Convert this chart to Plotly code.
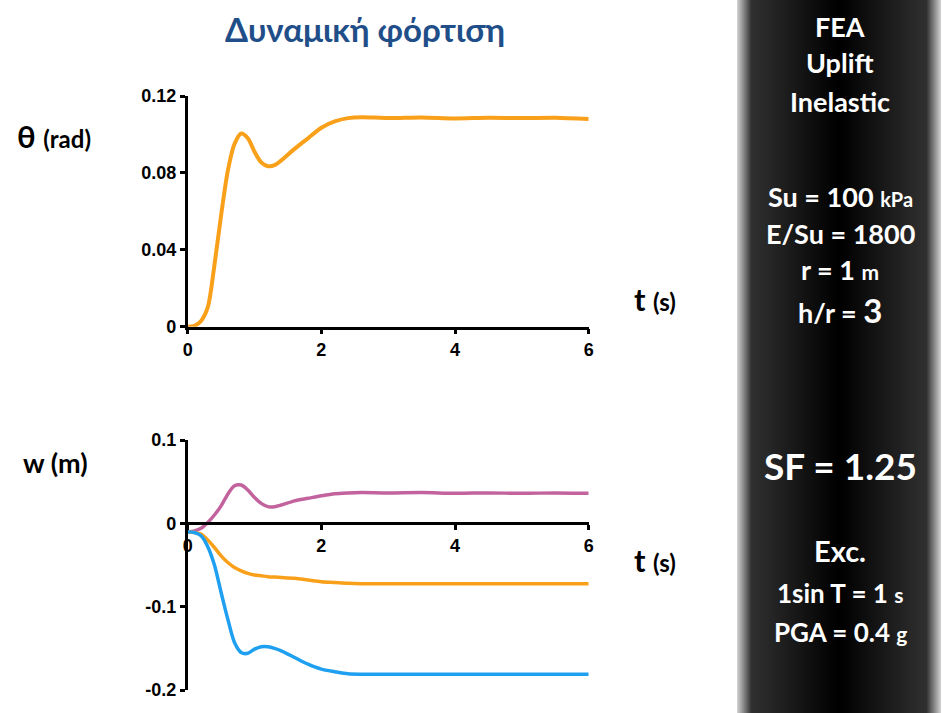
import plotly.graph_objects as go

# ---- data ----
t = [0, 0.1, 0.2, 0.3, 0.4, 0.5, 0.6, 0.7, 0.8, 0.9, 1.0, 1.1, 1.2, 1.3, 1.4,
     1.6, 1.8, 2.0, 2.2, 2.4, 2.6, 3.0, 3.5, 4.0, 4.5, 5.0, 5.5, 6.0]

theta = [0, 0.0005, 0.003, 0.010, 0.032, 0.058, 0.081, 0.095, 0.1005, 0.098,
         0.091, 0.0855, 0.0835, 0.084, 0.0865, 0.0925, 0.098, 0.1035, 0.1068,
         0.1085, 0.109, 0.1085, 0.1088, 0.1083, 0.1087, 0.1085, 0.1087, 0.108]

w_pink = [-0.010, -0.009, -0.006, 0.001, 0.010, 0.021, 0.035, 0.045, 0.046,
          0.040, 0.031, 0.024, 0.020, 0.020, 0.022, 0.027, 0.030, 0.033,
          0.0355, 0.0365, 0.037, 0.0365, 0.037, 0.036, 0.0365, 0.036, 0.0365, 0.036]

w_orange = [-0.010, -0.011, -0.013, -0.020, -0.029, -0.039, -0.047, -0.053,
            -0.057, -0.060, -0.062, -0.063, -0.064, -0.0645, -0.065, -0.066,
            -0.068, -0.070, -0.071, -0.072, -0.0725, -0.0725, -0.0725, -0.0725,
            -0.0725, -0.0725, -0.0725, -0.0725]

w_blue = [-0.010, -0.011, -0.015, -0.028, -0.050, -0.083, -0.115, -0.143,
          -0.155, -0.156, -0.151, -0.148, -0.148, -0.150, -0.153, -0.161,
          -0.169, -0.175, -0.178, -0.1805, -0.181, -0.181, -0.181, -0.181,
          -0.181, -0.181, -0.181, -0.181]

x_ticks = [0, 2, 4, 6]
theta_ticks = [0, 0.04, 0.08, 0.12]
theta_ticktext = ["0", "0.04", "0.08", "0.12"]
w_ticks = [-0.2, -0.1, 0, 0.1]
w_ticktext = ["-0.2", "-0.1", "0", "0.1"]

W, H = 951, 713
ORANGE = "#F9A01B"
BLUE = "#1E9FF0"
PINK = "#C2639E"

fig = go.Figure()
fig.add_trace(go.Scatter(x=t, y=theta, mode="lines", xaxis="x", yaxis="y",
                         line=dict(color=ORANGE, width=4, shape="spline", smoothing=0.8),
                         showlegend=False, hoverinfo="skip"))
fig.add_trace(go.Scatter(x=t, y=w_pink, mode="lines", xaxis="x2", yaxis="y2",
                         line=dict(color=PINK, width=3.5, shape="spline", smoothing=0.8),
                         showlegend=False, hoverinfo="skip"))
fig.add_trace(go.Scatter(x=t, y=w_orange, mode="lines", xaxis="x2", yaxis="y2",
                         line=dict(color=ORANGE, width=3.5, shape="spline", smoothing=0.8),
                         showlegend=False, hoverinfo="skip"))
fig.add_trace(go.Scatter(x=t, y=w_blue, mode="lines", xaxis="x2", yaxis="y2",
                         line=dict(color=BLUE, width=3.5, shape="spline", smoothing=0.8),
                         showlegend=False, hoverinfo="skip"))

tickfont = dict(family="Liberation Sans, Arial", size=18, color="black", weight="bold")
axis_common = dict(showline=True, linecolor="black", linewidth=2.5, ticks="outside",
                   ticklen=5, tickwidth=2.5, tickcolor="black", showgrid=False,
                   zeroline=False, tickfont=tickfont, fixedrange=True, automargin=False)

xdom = [187.7 / W, 588.7 / W]
ydom_top = [1 - 326.7 / H, 1 - 96 / H]
ydom_bot = [1 - 690 / H, 1 - 440 / H]
zero_pos = ydom_bot[0] + (0.2 / 0.3) * (ydom_bot[1] - ydom_bot[0])

fig.update_layout(
    width=W, height=H, margin=dict(l=0, r=0, t=0, b=0, pad=0, autoexpand=False),
    paper_bgcolor="white", plot_bgcolor="rgba(0,0,0,0)",
    xaxis=dict(domain=xdom, anchor="y", range=[0, 6], tickvals=x_ticks, **axis_common),
    yaxis=dict(domain=ydom_top, anchor="x", range=[0, 0.12], tickvals=theta_ticks,
               ticktext=theta_ticktext, **axis_common),
    xaxis2=dict(domain=xdom, anchor="free", position=zero_pos, range=[0, 6],
                tickvals=x_ticks, **axis_common),
    yaxis2=dict(domain=ydom_bot, anchor="x2", range=[-0.2, 0.1], tickvals=w_ticks,
                ticktext=w_ticktext, **axis_common),
)

# ---- dark side panel with horizontal gradient (nested rectangles) ----
x0p, x1p = 737, 941
half = (x1p - x0p) / 2
shapes = []
d = 0.0
while d < half:
    if d < 14:
        g = 205 - (205 - 48) * (d / 14)
    else:
        g = 48 * max(0.0, 1 - (d - 14) / 86)
    g = int(round(g))
    shapes.append(dict(type="rect", xref="paper", yref="paper",
                       x0=(x0p + d) / W, x1=(x1p - d) / W, y0=-0.01, y1=1.01,
                       fillcolor=f"rgb({g},{g},{g})", line=dict(width=0), layer="below"))
    d += 1.0
fig.update_layout(shapes=shapes)

LAT = "Lato, Open Sans, sans-serif"
ann = []

def add(text, xpx, ypx, size, color="black", xanchor="center"):
    ann.append(dict(text=text, x=xpx / W, y=1 - ypx / H, xref="paper", yref="paper",
                    showarrow=False, xanchor=xanchor, yanchor="middle",
                    font=dict(family=LAT, size=size, color=color, weight="bold")))

add("Δυναμική φόρτιση", 365, 29, 33, color="#1F4E89")
add("θ <span style='font-size:24px'>(rad)</span>", 15, 136, 31, xanchor="left")
add("w (m)", 21, 462, 27, xanchor="left")
add("t <span style='font-size:24px'>(s)</span>", 632, 299, 31, xanchor="left")
add("t <span style='font-size:24px'>(s)</span>", 632, 560, 31, xanchor="left")

cx = 840
white = "white"
add("FEA", cx, 27, 27, white)
add("Uplift", cx, 63, 27, white)
add("Inelastic", cx, 101, 27, white)
add("Su = 100 <span style='font-size:20px'>kPa</span>", cx, 196, 27, white)
add("E/Su = 1800", cx, 233, 27, white)
add("r = 1 <span style='font-size:21px'>m</span>", cx, 270, 27, white)
add("h/r = <span style='font-size:33px'>3</span>", cx, 310, 27, white)
add("SF = 1.25", cx, 465, 37, white)
add("Exc.", cx, 550, 29, white)
add("1sin T = 1 <span style='font-size:21px'>s</span>", cx, 593, 26, white)
add("PGA = 0.4 <span style='font-size:21px'>g</span>", cx, 632, 26, white)

fig.update_layout(annotations=ann)

fig.write_html("out.html", config={"displayModeBar": False})
